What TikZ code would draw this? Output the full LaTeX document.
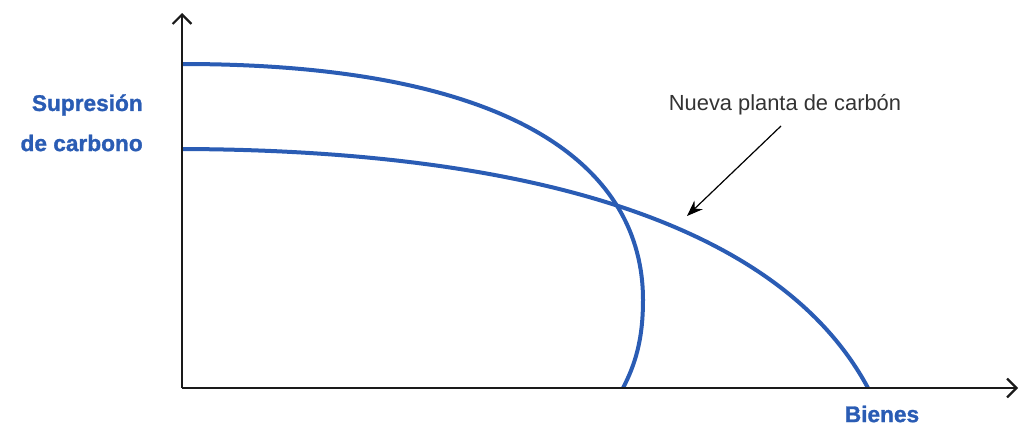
\documentclass[tikz,border=0pt]{standalone}
\usepackage{fontspec}
\setmainfont{Liberation Sans}
\newfontfamily\heavyfont{Liberation Sans}[BoldFeatures={FakeBold=1.2}]
\usetikzlibrary{arrows.meta}
\definecolor{curveblue}{HTML}{2A5CB4}
\definecolor{axisblack}{HTML}{1A1A1A}
\definecolor{textgray}{HTML}{333333}
\begin{document}
\begin{tikzpicture}[x=0.75pt,y=-0.75pt,
  axis/.style={draw=axisblack,line width=1.7pt,-{Straight Barb[length=7pt,width=14pt,line width=1.7pt]}},
  curve/.style={draw=curveblue,line width=3pt},
  bluelab/.style={text=curveblue,font=\heavyfont\fontsize{17}{20}\selectfont\bfseries,inner sep=0pt},
  graylab/.style={text=textgray,font=\fontsize{16.4}{19}\selectfont,inner sep=0pt},
  pointer/.style={draw=black,line width=0.9pt,-{Stealth[length=12pt,width=9pt]}}]
\useasboundingbox (0,0) rectangle (1029,425);
\coordinate (O) at (182,388);
\coordinate (ytop) at (182,13);
\coordinate (xend) at (1018,388);
% curves
\draw[curve] (182,64) .. controls (520,64) and (643,170) .. (643,300)
  .. controls (643,340) and (635,365) .. (623,388);
\draw[curve] (182,149) .. controls (480,150) and (770,205) .. (868,388);
% axes
\draw[axis] (O) -- (ytop);
\draw[axis] (O) -- (xend);
% labels
\node[bluelab,anchor=east] (sup) at (143,105) {Supresión};
\node[bluelab,anchor=east] (dec) at (143,143) {de carbono};
\node[bluelab,anchor=center] (bien) at (882,414) {Bienes};
\node[graylab,anchor=center] (nueva) at (785,105) {Nueva planta de carbón};
\coordinate (astart) at (781,126);
\coordinate (atip) at (687,216);
\draw[pointer] (astart) -- (atip);
\end{tikzpicture}
\end{document}
